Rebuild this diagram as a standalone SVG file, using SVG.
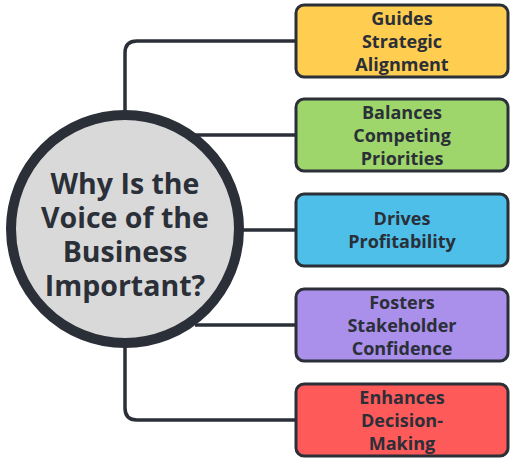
<svg xmlns="http://www.w3.org/2000/svg" width="516" height="465" viewBox="0 0 516 465">
<style>
.box{stroke:#2a2f38;stroke-width:3}
.t{font-family:"Open Sans","Noto Sans",sans-serif;font-weight:bold;font-size:18px;fill:#2a2f38;text-anchor:middle}
.c{font-family:"Open Sans","Noto Sans",sans-serif;font-weight:bold;font-size:28.5px;fill:#2a2f38;text-anchor:middle}
.ln{fill:none;stroke:#2a2f38;stroke-width:3.5}
</style>
<rect width="516" height="465" fill="#ffffff"/>
<g id="connectors">
<path class="ln" d="M125 112 V53 Q125 41 137 41 H296"/>
<path class="ln" d="M195 135 H296"/>
<path class="ln" d="M240 230 H296"/>
<path class="ln" d="M195 325 H296"/>
<path class="ln" d="M125 345 V408 Q125 420 137 420 H296"/>
</g>
<g id="center">
<circle cx="125" cy="229" r="114" fill="#d9d9d9" stroke="#2a2f38" stroke-width="10"/>
<text class="c" x="125" y="194">Why Is the</text>
<text class="c" x="125" y="228">Voice of the</text>
<text class="c" x="125" y="262">Business</text>
<text class="c" x="125" y="296">Important?</text>
</g>
<g id="n1">
<rect class="box" x="296" y="5" width="212" height="72" rx="8" fill="#ffcd4f"/>
<text class="t" x="402" y="24.5">Guides</text>
<text class="t" x="402" y="47.5">Strategic</text>
<text class="t" x="402" y="70.5">Alignment</text>
</g>
<g id="n2">
<rect class="box" x="296" y="99" width="212" height="72" rx="8" fill="#9fd66b"/>
<text class="t" x="402" y="118.5">Balances</text>
<text class="t" x="402" y="141.5">Competing</text>
<text class="t" x="402" y="164.5">Priorities</text>
</g>
<g id="n3">
<rect class="box" x="296" y="194" width="212" height="72" rx="8" fill="#4dbfe9"/>
<text class="t" x="402" y="224.5">Drives</text>
<text class="t" x="402" y="247.5">Profitability</text>
</g>
<g id="n4">
<rect class="box" x="296" y="289" width="212" height="72" rx="8" fill="#aa8feb"/>
<text class="t" x="402" y="308.5">Fosters</text>
<text class="t" x="402" y="331.5">Stakeholder</text>
<text class="t" x="402" y="354.5">Confidence</text>
</g>
<g id="n5">
<rect class="box" x="296" y="384" width="212" height="72" rx="8" fill="#ff5a5a"/>
<text class="t" x="402" y="403.5">Enhances</text>
<text class="t" x="402" y="426.5">Decision-</text>
<text class="t" x="402" y="449.5">Making</text>
</g>
</svg>
